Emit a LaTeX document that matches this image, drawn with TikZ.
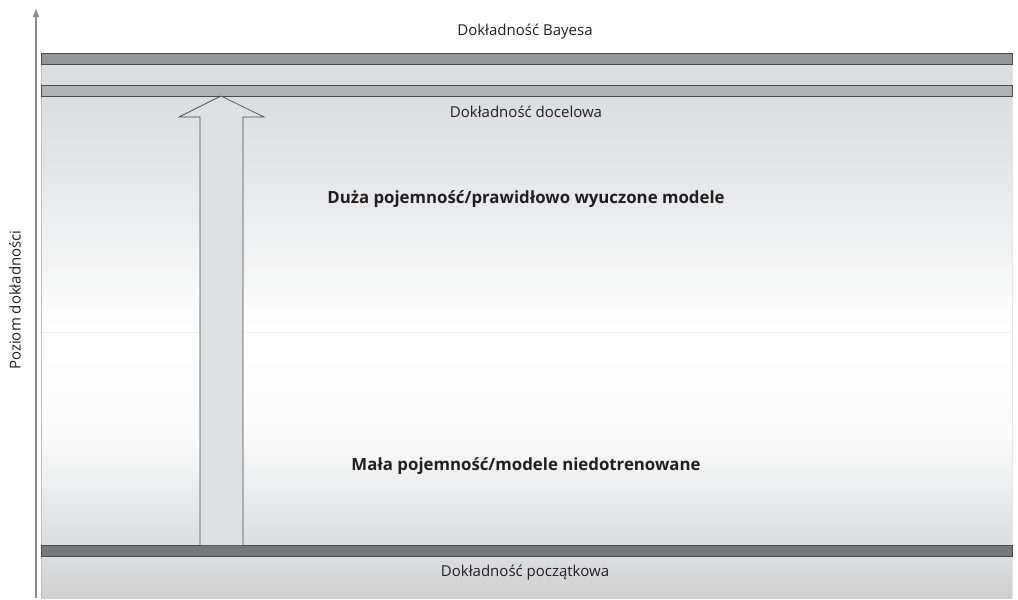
\documentclass[tikz,border=0pt]{standalone}
\usepackage{fontspec}
\setmainfont{Open Sans}
\usetikzlibrary{arrows.meta}
\definecolor{bardark}{HTML}{939598}
\definecolor{barmid}{HTML}{B1B2B4}
\definecolor{barbot}{HTML}{77787B}
\definecolor{bandgray}{HTML}{DCDDDF}
\definecolor{edgegray}{HTML}{4A4A4C}
\definecolor{axisgray}{HTML}{8C8C8E}
\definecolor{txt}{HTML}{231F20}
\tikzset{
  bar/.style={draw=edgegray, line width=0.9pt},
  lbl/.style={font=\fontsize{15}{17}\selectfont, text=txt, inner sep=0pt},
  big/.style={font=\bfseries\fontsize{16.8}{19}\selectfont, text=txt, inner sep=0pt},
}
\begin{document}
\begin{tikzpicture}[x=1pt,y=-1pt]
\useasboundingbox (0,0) rectangle (1018,600);
% band between top bars
\fill[bandgray] (41,64) rectangle (1012,85);
% upper gradient region
\shade[top color=bandgray, bottom color=white, middle color=bandgray!55] (41,96) rectangle (1012,331);
\draw[white!95!black, line width=0.6pt] (41,332) -- (1012,332);
% lower gradient region
\shade[top color=white, bottom color=bandgray, middle color=white!85!bandgray] (41,334) rectangle (1012,545);
% bottom region
\shade[top color=bandgray, bottom color=black!19] (41,556) rectangle (1012,598);
% left border of panel
\draw[black!25, line width=0.8pt] (41,64) -- (41,598);
\draw[black!10, line width=0.8pt] (1012,64) -- (1012,598);
% bars
\draw[bar, fill=bardark] (41,53) rectangle (1012,64);
\draw[bar, fill=barmid] (41,85) rectangle (1012,96);
\draw[bar, fill=barbot] (41,545) rectangle (1012,556);
% block arrow
\draw[fill=bandgray!92!white, draw=black!70, line width=0.7pt]
  (200,545) -- (200,117) -- (179,117) -- (221,96) -- (264,117) -- (243,117) -- (243,545);
% axis
\coordinate (ax0) at (36,598);
\coordinate (ax1) at (36,8);
\draw[axisgray, line width=1.6pt, -{Latex[length=9pt,width=7pt]}] (ax0) -- (ax1);
\node[lbl, rotate=90] (ylab) at (15,300) {Poziom dokładności};
% labels
\node[lbl] (bayes) at (525,32) {Dokładność Bayesa};
\node[lbl] (target) at (526,112) {Dokładność docelowa};
\node[big] (high) at (526,199) {Duża pojemność/prawidłowo wyuczone modele};
\node[big] (low) at (526,466) {Mała pojemność/modele niedotrenowane};
\node[lbl] (start) at (525,573) {Dokładność początkowa};
\end{tikzpicture}
\end{document}
